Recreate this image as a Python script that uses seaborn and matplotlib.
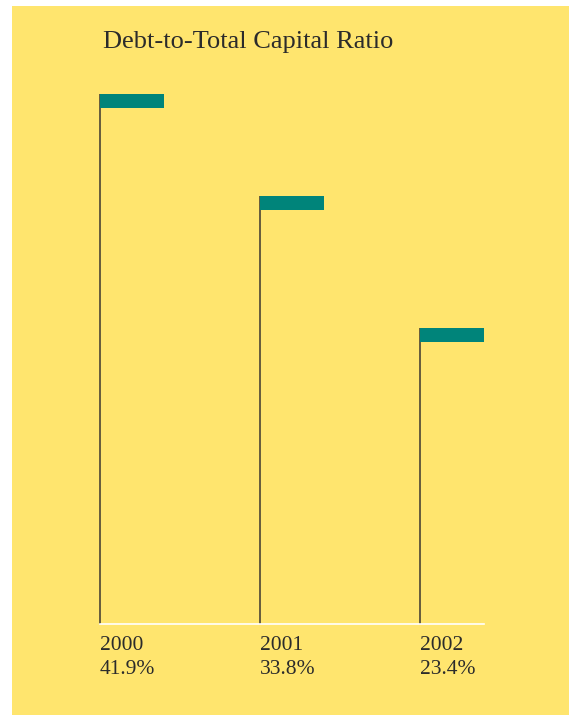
import matplotlib
matplotlib.use("Agg")
import matplotlib.pyplot as plt
import seaborn as sns
import pandas as pd
from matplotlib.patches import Rectangle

years = ["2000", "2001", "2002"]
ratios = [41.9, 33.8, 23.4]
labels = ["41.9%", "33.8%", "23.4%"]
title = "Debt-to-Total Capital Ratio"

sns.set_theme(style="white")
plt.rcParams["font.family"] = ["Liberation Serif", "DejaVu Serif"]

W, H = 569, 715
fig = plt.figure(figsize=(W / 100, H / 100), dpi=100, facecolor="white")
YEL = "#FFE56E"
TEAL = "#00847A"
STEM = "#4a4535"

bg = Rectangle((12 / W, 0), 1 - 12 / W, 1 - 6 / H,
               transform=fig.transFigure, facecolor=YEL,
               edgecolor="none", zorder=-10)
fig.add_artist(bg)

left_px, right_px, base_px, top_px = 100, 484, 624, 60
ax = fig.add_axes([left_px / W, (H - base_px) / H,
                   (right_px - left_px) / W, (base_px - top_px) / H])
ax.set_zorder(5)
ax.set_facecolor("none")
ax.patch.set_alpha(0)
px_per_unit = 530 / 41.9
ax.set_ylim(0, (base_px - top_px) / px_per_unit)
ax.set_xlim(0, 2.4)

df = pd.DataFrame({"year": years, "ratio": ratios, "label": labels})
xs = list(range(len(df)))
flag_h = 14 / px_per_unit

ax.vlines(xs, 0, df["ratio"], color=STEM, linewidth=1.2, clip_on=False, zorder=2)
ax.bar(xs, [flag_h] * len(df), bottom=df["ratio"] - flag_h, width=0.4,
       align="edge", color=TEAL, edgecolor="none", zorder=3, clip_on=False)

for s in ["top", "right", "left"]:
    ax.spines[s].set_visible(False)
ax.spines["bottom"].set_color("white")
ax.spines["bottom"].set_linewidth(1.2)
ax.set_xticks([])
ax.set_yticks([])

for x, yr, lb in zip(xs, df["year"], df["label"]):
    ax.annotate(yr, (x, 0), xytext=(0, -22), textcoords="offset pixels",
                ha="left", va="center", fontsize=15.5, color="#2b2b2b")
    ax.annotate(lb, (x, 0), xytext=(0, -46), textcoords="offset pixels",
                ha="left", va="center", fontsize=15.5, color="#2b2b2b")

fig.text(103 / W, 1 - 42 / H, title, ha="left", va="center",
         fontsize=19, color="#2b2b2b")

fig.savefig("out.png", dpi=100, facecolor="white")
